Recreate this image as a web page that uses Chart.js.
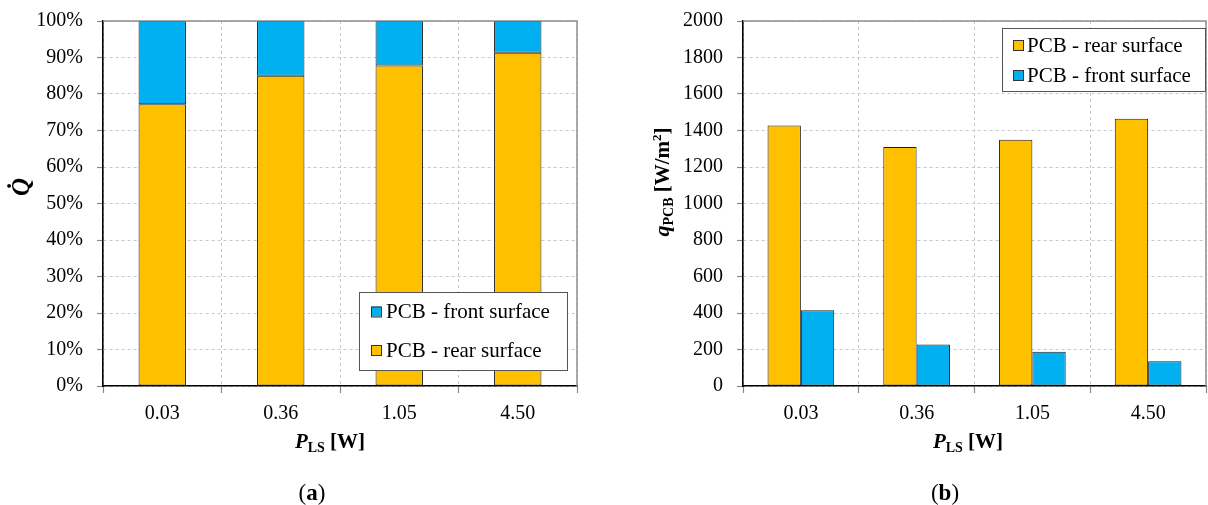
<!DOCTYPE html>
<html><head><meta charset="utf-8">
<script src="https://cdn.jsdelivr.net/npm/chart.js@4.4.0/dist/chart.umd.min.js"></script>
<style>
html,body{margin:0;padding:0;background:#fff;}
#wrap{position:relative;width:1208px;height:505px;overflow:hidden;font-family:'Liberation Serif',serif;}
canvas{position:absolute;top:0;}
.cap{position:absolute;font-size:23px;transform:translate(-50%,-50%);color:#000;white-space:nowrap;line-height:1;}
</style></head><body>
<div id="wrap">
<canvas id="ca" width="604" height="505" style="left:0"></canvas>
<canvas id="cb" width="604" height="505" style="left:604px"></canvas>
<div class="cap" style="left:312px;top:492px">(<b>a</b>)</div>
<div class="cap" style="left:945px;top:492px">(<b>b</b>)</div>
</div>
<script>
const categories = ['0.03', '0.36', '1.05', '4.50'];
const shareRear = [77.2, 85.0, 87.8, 91.3];
const shareFront = [22.8, 15.0, 12.2, 8.7];
const fluxRear = [1428, 1309, 1349, 1465];
const fluxFront = [415, 227, 187, 135];
const shareTickValues = [0, 10, 20, 30, 40, 50, 60, 70, 80, 90, 100];
const fluxTickValues = [0, 200, 400, 600, 800, 1000, 1200, 1400, 1600, 1800, 2000];
const labelFront = 'PCB - front surface';
const labelRear = 'PCB - rear surface';

const ORANGE = '#FFC000', BLUE = '#00B0F0';
const FAM = "'Liberation Serif', 'Times New Roman', serif";
Chart.defaults.font.family = FAM;
Chart.defaults.color = '#000';

function drawRich(ctx, segs, cx, cy, rot) {
  ctx.save();
  ctx.translate(cx, cy);
  if (rot) ctx.rotate(-Math.PI / 2);
  ctx.textBaseline = 'alphabetic';
  ctx.textAlign = 'left';
  let total = 0;
  segs.forEach(s => { ctx.font = s.font; s.w = ctx.measureText(s.t).width; total += s.w; });
  let x = -total / 2;
  segs.forEach(s => { ctx.font = s.font; ctx.fillStyle = '#000'; ctx.fillText(s.t, x, (s.dy || 0) + 7); x += s.w; });
  ctx.restore();
}

function titlesPlugin(list) {
  return { id: 'richTitles', afterDraw(chart) {
    list.forEach(t => drawRich(chart.ctx, t.segs, t.x, t.y, t.rot));
  } };
}

function framePlugin() {
  return { id: 'frame', afterDatasetsDraw(chart) {
    const a = chart.chartArea, ctx = chart.ctx;
    ctx.save();
    ctx.setLineDash([]);
    ctx.strokeStyle = '#8f8f8f'; ctx.lineWidth = 1.5;
    ctx.beginPath();
    ctx.moveTo(a.left, a.top); ctx.lineTo(a.right, a.top); ctx.lineTo(a.right, a.bottom);
    ctx.stroke();
    ctx.restore();
  } };
}

function legendPlugin(cfg) {
  return { id: 'boxLegend', afterDraw(chart) {
    const ctx = chart.ctx;
    ctx.save();
    ctx.setLineDash([]);
    ctx.fillStyle = '#fff';
    ctx.fillRect(cfg.x, cfg.y, cfg.w, cfg.h);
    ctx.strokeStyle = '#555'; ctx.lineWidth = 1;
    ctx.strokeRect(cfg.x + 0.5, cfg.y + 0.5, cfg.w, cfg.h);
    cfg.items.forEach((idx, i) => {
      const ds = chart.data.datasets[idx];
      const yy = cfg.rows[i];
      ctx.fillStyle = ds.backgroundColor;
      ctx.fillRect(cfg.sx, yy - 5, 10, 10);
      ctx.strokeStyle = '#333';
      ctx.strokeRect(cfg.sx + 0.5, yy - 5 + 0.5, 10, 10);
      ctx.fillStyle = '#000';
      ctx.font = '21px ' + FAM;
      ctx.textBaseline = 'middle';
      ctx.textAlign = 'left';
      ctx.fillText(ds.label, cfg.tx, yy + 1);
    });
    ctx.restore();
  } };
}

function tickSetter(values) {
  return function (scale) { scale.ticks = values.map(v => ({ value: v })); };
}

function baseScales(yMin, yMax, yValues, yCb, yWidth, stacked) {
  return {
    x: {
      stacked: stacked,
      offset: true,
      afterFit(s) { s.height = 119; s.paddingLeft = 0; s.paddingRight = 0; },
      grid: { display: true, offset: true, color: '#c8c8c8', tickBorderDash: [], tickColor: '#8a8a8a', tickLength: 7, lineWidth: 1, tickWidth: 1.2 },
      border: { display: true, color: '#000', width: 1.6, dash: [3, 3] },
      ticks: { font: { size: 20 }, padding: 9, color: '#000', maxRotation: 0 }
    },
    y: {
      stacked: stacked,
      min: yMin, max: yMax,
      afterBuildTicks: tickSetter(yValues),
      afterFit(s) { s.width = yWidth; s.paddingTop = 0; s.paddingBottom = 0; },
      grid: { color: '#c8c8c8', tickBorderDash: [], tickColor: '#8a8a8a', tickLength: 6, lineWidth: 1, tickWidth: 1.2 },
      border: { display: true, color: '#000', width: 1.6, dash: [3, 3] },
      ticks: { font: { size: 20 }, padding: 14, color: '#000', callback: yCb }
    }
  };
}

const barBorder = { borderColor: '#1f1f1f', borderWidth: 1, borderSkipped: false };

new Chart(document.getElementById('ca'), {
  type: 'bar',
  data: {
    labels: categories,
    datasets: [
      Object.assign({ label: labelRear, data: shareRear, backgroundColor: ORANGE, barPercentage: 0.4, categoryPercentage: 1 }, barBorder),
      Object.assign({ label: labelFront, data: shareFront, backgroundColor: BLUE, barPercentage: 0.4, categoryPercentage: 1 }, barBorder)
    ]
  },
  options: {
    responsive: false, animation: false, devicePixelRatio: 1,
    layout: { padding: { top: 21, right: 27, bottom: 0, left: 0 } },
    plugins: { legend: { display: false }, tooltip: { enabled: false } },
    scales: baseScales(0, 100, shareTickValues, v => v + '%', 103, true)
  },
  plugins: [
    framePlugin(),
    legendPlugin({ x: 359, y: 292, w: 208, h: 78, items: [1, 0], rows: [311.5, 350], sx: 371, tx: 386 }),
    titlesPlugin([
      { segs: [{ t: 'Q\u0307', font: 'italic bold 25px ' + FAM }], x: 22, y: 187, rot: true },
      { segs: [{ t: 'P', font: 'italic bold 21px ' + FAM }, { t: 'LS', font: 'bold 14px ' + FAM, dy: 4 }, { t: ' [W]', font: 'bold 21px ' + FAM }], x: 330, y: 441, rot: false }
    ])
  ]
});

new Chart(document.getElementById('cb'), {
  type: 'bar',
  data: {
    labels: categories,
    datasets: [
      Object.assign({ label: labelRear, data: fluxRear, backgroundColor: ORANGE, barPercentage: 1, categoryPercentage: 0.576 }, barBorder),
      Object.assign({ label: labelFront, data: fluxFront, backgroundColor: BLUE, barPercentage: 1, categoryPercentage: 0.576 }, barBorder)
    ]
  },
  options: {
    responsive: false, animation: false, devicePixelRatio: 1,
    layout: { padding: { top: 21, right: 2, bottom: 0, left: 0 } },
    plugins: { legend: { display: false }, tooltip: { enabled: false } },
    scales: baseScales(0, 2000, fluxTickValues, v => String(v), 139, false)
  },
  plugins: [
    framePlugin(),
    legendPlugin({ x: 398, y: 28, w: 203, h: 63, items: [0, 1], rows: [45, 75], sx: 409, tx: 423 }),
    titlesPlugin([
      { segs: [{ t: 'q', font: 'italic bold 22px ' + FAM }, { t: 'PCB', font: 'bold 14px ' + FAM, dy: 4 }, { t: ' [W/m', font: 'bold 21px ' + FAM }, { t: '2', font: 'bold 13px ' + FAM, dy: -8 }, { t: ']', font: 'bold 21px ' + FAM }], x: 58, y: 182, rot: true },
      { segs: [{ t: 'P', font: 'italic bold 21px ' + FAM }, { t: 'LS', font: 'bold 14px ' + FAM, dy: 4 }, { t: ' [W]', font: 'bold 21px ' + FAM }], x: 364, y: 441, rot: false }
    ])
  ]
});
</script>
</body></html>
